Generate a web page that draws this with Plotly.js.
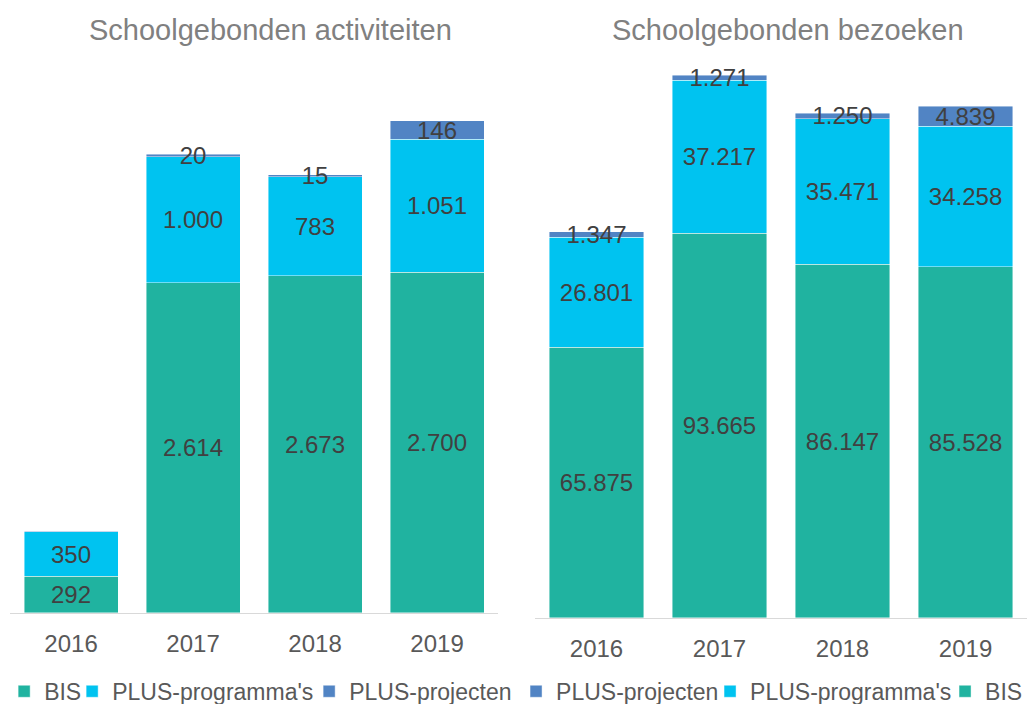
<!DOCTYPE html>
<html>
<head>
<meta charset="utf-8">
<script src="https://cdn.plot.ly/plotly-3.0.1.min.js"></script>
<style>html,body{margin:0;padding:0;background:#fff;}#chart{width:1035px;height:704px;}</style>
</head>
<body>
<div id="chart"></div>
<script>
const years = ['2016', '2017', '2018', '2019'];
// Schoolgebonden activiteiten
const actBIS = [292, 2614, 2673, 2700];
const actProgrammas = [350, 1000, 783, 1051];
const actProjecten = [4, 20, 15, 146];
const actProjectenLabels = ['', '%{y:,.0f}', '%{y:,.0f}', '%{y:,.0f}'];
// Schoolgebonden bezoeken
const bezBIS = [65875, 93665, 86147, 85528];
const bezProgrammas = [26801, 37217, 35471, 34258];
const bezProjecten = [1347, 1271, 1250, 4839];

const cBIS = '#20B3A0';
const cProg = '#00C3F0';
const cProj = '#5184C4';
const FONT = 'Liberation Sans, Arial, sans-serif';
const txt = {family: FONT, size: 24, color: '#404040'};
const line = {width: 0.8, color: 'rgba(255,255,255,0.55)'};

function tr(name, x, y, color, xa, ya, legend, lw, tmpl) {
  return {
    type: 'bar', name: name, x: x, y: y, xaxis: xa, yaxis: ya, legend: legend,
    legendwidth: lw,
    marker: {color: color, line: line},
    texttemplate: tmpl || '%{y:,.0f}', textposition: 'inside', insidetextanchor: 'middle',
    textangle: 0, constraintext: 'none',
    textfont: txt, insidetextfont: txt, cliponaxis: false, hoverinfo: 'skip'
  };
}

const data = [
  tr('BIS', years, actBIS, cBIS, 'x', 'y', 'legend', 23),
  tr("PLUS-programma's", years, actProgrammas, cProg, 'x', 'y', 'legend', 192),
  tr('PLUS-projecten', years, actProjecten, cProj, 'x', 'y', 'legend', 166, actProjectenLabels),
  tr('BIS', years, bezBIS, cBIS, 'x2', 'y2', 'legend2', 40),
  tr("PLUS-programma's", years, bezProgrammas, cProg, 'x2', 'y2', 'legend2', 190),
  tr('PLUS-projecten', years, bezProjecten, cProj, 'x2', 'y2', 'legend2', 149)
];

const xax = (dom, anchor) => ({
  domain: dom, type: 'category', anchor: anchor, showline: true, linecolor: '#d9d9d9', linewidth: 1.5,
  showgrid: false, zeroline: false, ticks: '', ticklabelstandoff: 9, automargin: false,
  tickfont: {family: FONT, size: 24, color: '#595959'},
  fixedrange: true
});
const yax = (dom, range, anchor) => ({
  domain: dom, range: range, visible: false, showgrid: false, zeroline: false,
  anchor: anchor, fixedrange: true
});

const legendFont = {family: FONT, size: 23, color: '#595959'};

const layout = {
  width: 1035, height: 704,
  margin: {l: 0, r: 0, t: 0, b: 0, autoexpand: false},
  paper_bgcolor: '#fff', plot_bgcolor: '#fff',
  barmode: 'stack', bargap: 0.23,
  separators: ',.',
  uniformtext: {mode: 'show', minsize: 24},
  xaxis: xax([0.0097, 0.4812], 'y'),
  yaxis: yax([0.1293, 0.8466], [0, 4000], 'x'),
  xaxis2: xax([0.5169, 0.9923], 'y2'),
  yaxis2: yax([0.1222, 0.9389], [0, 140000], 'x2'),
  legend: {orientation: 'h', x: 0.004, y: 0.018, xanchor: 'left', yanchor: 'middle',
           font: legendFont, traceorder: 'normal', itemclick: false, bgcolor: 'rgba(0,0,0,0)'},
  legend2: {orientation: 'h', x: 0.4986, y: 0.018, xanchor: 'left', yanchor: 'middle',
            font: legendFont, traceorder: 'reversed', itemclick: false, bgcolor: 'rgba(0,0,0,0)'},
  annotations: [
    {text: 'Schoolgebonden activiteiten', xref: 'paper', yref: 'paper', x: 0.261, y: 0.957,
     xanchor: 'center', yanchor: 'middle', showarrow: false,
     font: {family: FONT, size: 29, color: '#808080'}},
    {text: 'Schoolgebonden bezoeken', xref: 'paper', yref: 'paper', x: 0.761, y: 0.957,
     xanchor: 'center', yanchor: 'middle', showarrow: false,
     font: {family: FONT, size: 29, color: '#808080'}}
  ]
};

Plotly.newPlot('chart', data, layout, {displayModeBar: false, staticPlot: true});
</script>
</body>
</html>
